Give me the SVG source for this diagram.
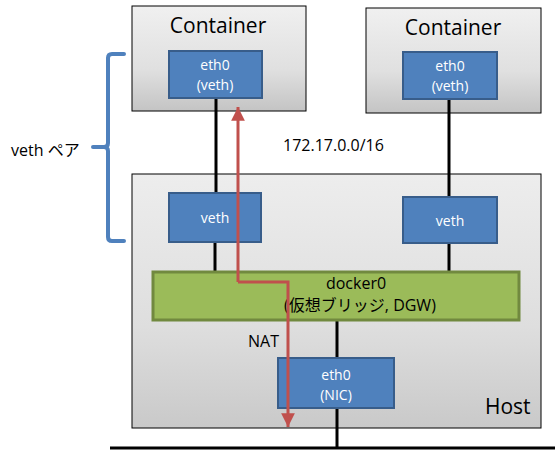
<svg xmlns="http://www.w3.org/2000/svg" width="560" height="457" viewBox="0 0 560 457">
<defs>
<linearGradient id="gray" x1="0" y1="0" x2="0" y2="1">
<stop offset="0" stop-color="#f0f0f0"/>
<stop offset="0.6" stop-color="#e0e0e0"/>
<stop offset="1" stop-color="#c4c4c4"/>
</linearGradient>
<linearGradient id="hostg" x1="0" y1="0" x2="0" y2="1">
<stop offset="0" stop-color="#ededed"/>
<stop offset="0.6" stop-color="#dedede"/>
<stop offset="1" stop-color="#c9c9c9"/>
</linearGradient>
<marker id="ah" viewBox="0 0 10 10" refX="10" refY="5" markerWidth="4.6" markerHeight="4.6" markerUnits="strokeWidth" orient="auto">
<path d="M0,0 L10,5 L0,10 z" fill="#c0504d"/>
</marker>
</defs>
<style>
.box{stroke:#000;stroke-width:1}
.blue{fill:#4f81bd;stroke:#385d8a;stroke-width:2}
.green{fill:#9bbb59;stroke:#71893f;stroke-width:3}
.wt{fill:#fff;font-family:"Open Sans","DejaVu Sans",sans-serif;font-size:14px;text-anchor:middle}
.big{fill:#000;font-family:"Open Sans","DejaVu Sans",sans-serif;font-size:21px}
.lbl{fill:#000;font-family:"Open Sans","DejaVu Sans","Noto Sans CJK JP",sans-serif;font-size:16px}
.wire{stroke:#000;stroke-width:3;fill:none}
.red{stroke:#c0504d;stroke-width:3;fill:none}
</style>
<g id="host">
<rect x="132" y="174" width="409" height="254" fill="url(#hostg)" class="box"/>
<text x="485" y="414" class="big" font-size="20">Host</text>
</g>
<g id="container1">
<rect x="132" y="6" width="174" height="105" fill="url(#gray)" class="box"/>
<text x="218" y="33" class="big" text-anchor="middle">Container</text>
</g>
<g id="container2">
<rect x="366" y="8" width="175" height="105" fill="url(#gray)" class="box"/>
<text x="453" y="35" class="big" text-anchor="middle">Container</text>
</g>
<g id="connectors">
<line x1="216" y1="98" x2="216" y2="193" class="wire"/>
<line x1="215" y1="242" x2="215" y2="272" class="wire"/>
<line x1="449" y1="99" x2="449" y2="197" class="wire"/>
<line x1="449" y1="243" x2="449" y2="272" class="wire"/>
<line x1="337" y1="320" x2="337" y2="358" class="wire"/>
<line x1="337" y1="408" x2="337" y2="449" class="wire"/>
<line x1="110" y1="448" x2="555" y2="448" class="wire"/>
</g>
<g id="eth0-c1">
<rect x="169" y="51" width="93" height="47" class="blue"/>
<text x="215" y="70" class="wt">eth0</text>
<text x="215" y="90" class="wt">(veth)</text>
</g>
<g id="eth0-c2">
<rect x="403" y="52" width="94" height="47" class="blue"/>
<text x="450" y="71" class="wt">eth0</text>
<text x="450" y="91" class="wt">(veth)</text>
</g>
<g id="veth1">
<rect x="169" y="193" width="92" height="49" class="blue"/>
<text x="215" y="223" class="wt">veth</text>
</g>
<g id="veth2">
<rect x="403" y="197" width="94" height="46" class="blue"/>
<text x="450" y="226" class="wt">veth</text>
</g>
<g id="docker0">
<rect x="153" y="272" width="366" height="48" class="green"/>
<text x="356" y="289" class="lbl" text-anchor="middle" font-size="11.5">docker0</text>
<text x="360" y="311" class="lbl" text-anchor="middle" font-size="13.5">(仮想ブリッジ, DGW)</text>
</g>
<g id="nic">
<rect x="278" y="358" width="116" height="50" class="blue"/>
<text x="336" y="380" class="wt">eth0</text>
<text x="336" y="400" class="wt">(NIC)</text>
</g>
<g id="route">
<path d="M238,282 L238,107" class="red" marker-end="url(#ah)"/>
<path d="M238,282 L288,282 L288,427" class="red" marker-end="url(#ah)"/>
</g>
<g id="labels">
<path d="M124,54 L112,54 Q108,54 108,58 L108,143 Q108,147 104,147 L93,147 M104,147 Q108,147 108,151 L108,237 Q108,241 112,241 L124,241" stroke="#4f81bd" stroke-width="4" fill="none" stroke-linecap="round"/>
<text x="11" y="156" class="lbl">veth ペア</text>
<text x="283" y="151" class="lbl" font-size="18">172.17.0.0/16</text>
<text x="248" y="347" class="lbl">NAT</text>
</g>
</svg>
